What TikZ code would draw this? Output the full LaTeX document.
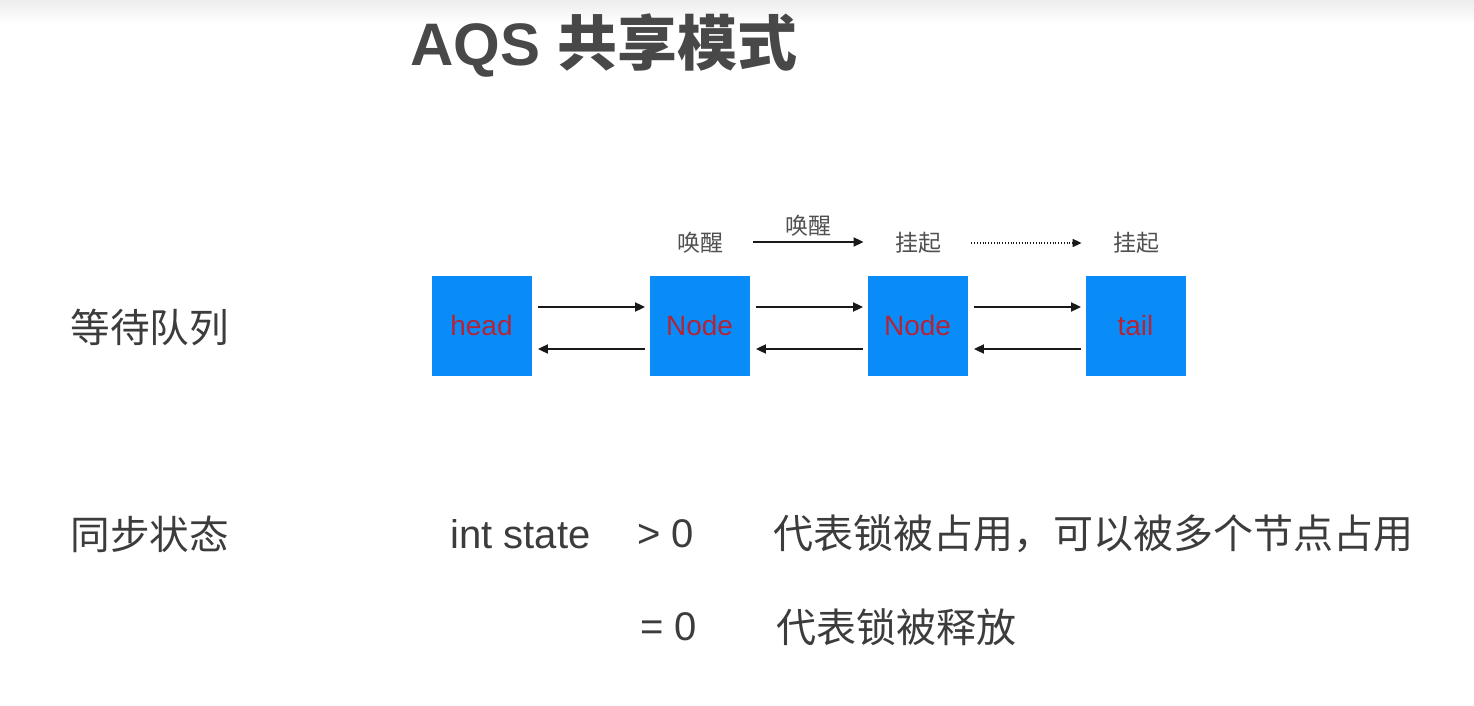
\documentclass[tikz,border=0pt]{standalone}
\usepackage{fontspec}
\usetikzlibrary{arrows.meta}
\setmainfont{Liberation Sans}
\newfontfamily\latin{Liberation Sans}
\newfontfamily\cjk{Noto Sans CJK SC}
\newfontfamily\cjkbold{Noto Sans CJK SC Bold}

\definecolor{qblue}{RGB}{10,140,248}
\definecolor{qred}{RGB}{178,36,56}
\definecolor{txt}{RGB}{60,60,60}
\definecolor{titlec}{RGB}{72,72,72}
\definecolor{labc}{RGB}{80,80,80}
\definecolor{linkc}{RGB}{25,25,25}

\newcommand{\boxtext}[1]{\raisebox{-0.9pt}{#1}}

\begin{document}
\begin{tikzpicture}[x=0.5pt,y=-0.5pt,
  qbox/.style={fill=qblue, draw=none, minimum width=50pt, minimum height=50pt,
               inner sep=0pt, font=\latin\fontsize{14}{14}\selectfont, text=qred},
  lab/.style={font=\cjk\fontsize{11.5}{12}\selectfont, text=labc, inner sep=0pt},
  bigtxt/.style={text=txt, inner sep=0pt, anchor=west},
  link/.style={-{Triangle[length=5pt,width=4.5pt]}, line width=0.9pt, draw=linkc},
  dotlink/.style={-{Triangle[length=4.5pt,width=4pt]}, line width=0.8pt, draw=linkc,
                  dash pattern=on 0.5pt off 0.9pt}]
\useasboundingbox (0,0) rectangle (1474,706);
\fill[white] (0,0) rectangle (1474,706);
\shade[top color=black!7, bottom color=white] (0,0) rectangle (1474,24);

% title
\node[anchor=west, inner sep=0pt, text=titlec] (title) at (410,46)
  {\latin\bfseries\fontsize{30}{30}\selectfont AQS \cjkbold 共享模式};

% row labels
\node[bigtxt, font=\cjk\fontsize{19.8}{20}\selectfont] (queue) at (70,327) {等待队列};
\node[bigtxt, font=\cjk\fontsize{19.8}{20}\selectfont] (sync) at (70,534) {同步状态};

% wait queue
\node[qbox] (head) at (481.5,325.5) {\boxtext{head}};
\node[qbox] (n1)   at (699.5,325.5) {\boxtext{Node}};
\node[qbox] (n2)   at (917.5,325.5) {\boxtext{Node}};
\node[qbox] (tail) at (1135.5,325.5) {\boxtext{tail}};

\foreach \a/\b in {head/n1, n1/n2, n2/tail}{
  \draw[link] ([shift={(6,-18.5)}]\a.east) -- ([shift={(-4,-18.5)}]\b.west);
  \draw[link] ([shift={(-4,23.5)}]\b.west) -- ([shift={(6,23.5)}]\a.east);
}

% node states
\node[lab] (w1) at (700,243) {唤醒};
\node[lab] (s1) at (918,243) {挂起};
\node[lab] (s2) at (1136,243) {挂起};
\draw[link] ([shift={(30,-1)}]w1.east) -- ([shift={(-31,-1)}]s1.west)
  node[midway, above=2.5pt, lab] (w2) {唤醒};
\draw[dotlink] ([xshift=15pt]s1.east) -- ([xshift=-15.5pt]s2.west);

% sync state
\node[bigtxt, font=\latin\fontsize{20}{20}\selectfont] (st) at (450,534) {int state};
\node[bigtxt, font=\latin\fontsize{20}{20}\selectfont] (gt) at (637,534) {> 0};
\node[bigtxt, font=\cjk\fontsize{20}{20}\selectfont] (gtd) at (773,534) {代表锁被占用，可以被多个节点占用};
\node[bigtxt, font=\latin\fontsize{20}{20}\selectfont] (eq) at (640,627) {= 0};
\node[bigtxt, font=\cjk\fontsize{20}{20}\selectfont] (eqd) at (776,627) {代表锁被释放};
\end{tikzpicture}
\end{document}
